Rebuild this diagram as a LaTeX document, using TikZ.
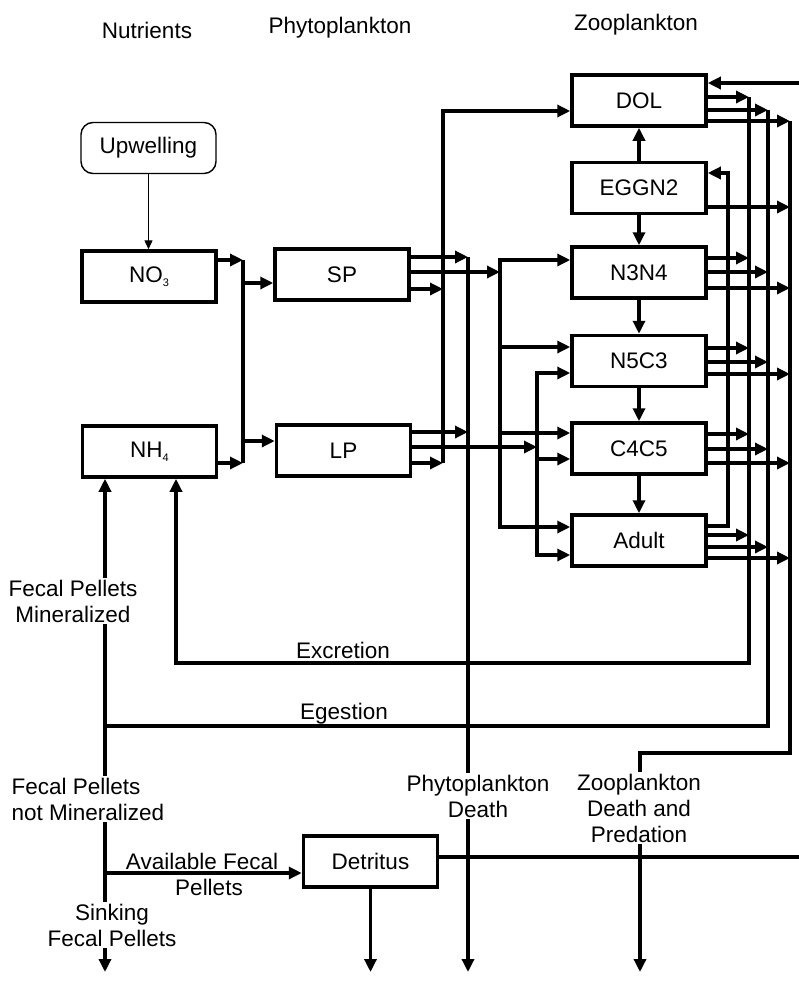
\documentclass[tikz,border=0pt]{standalone}
\usepackage{fontspec}
\setmainfont{Liberation Sans}
\usetikzlibrary{arrows.meta}
\newcommand{\subsc}[1]{{\fontsize{11bp}{11bp}\selectfont\raisebox{-4bp}{#1}}}
\begin{document}
\begin{tikzpicture}[x=1bp,y=-1bp,
  every node/.style={font=\fontsize{22.5bp}{26bp}\selectfont, inner sep=0pt},
  box/.style={draw, line width=3.5bp, minimum width=134bp, minimum height=51bp},
  rbox/.style={draw, line width=1.4bp, rounded corners=12bp, minimum width=135bp, minimum height=51bp},
  wire/.style={line width=3.5bp},
  arr/.style={line width=3.5bp, -{Triangle[length=13bp,width=12bp]}},
  tarr/.style={line width=1.4bp, -{Triangle[length=9bp,width=8bp]}},
  lbl/.style={fill=white, inner sep=1.5bp, align=center},
]
\useasboundingbox (0,0) rectangle (799,983);

% headers
\node (hN) at (147,30) {Nutrients};
\node (hP) at (340,28) {Phytoplankton};
\node (hZ) at (636,25) {Zooplankton};

% boxes
\node[rbox] (up) at (148.5,148) {Upwelling};
\node[box] (no3) at (149,276.5) {NO\subsc{3}};
\node[box] (nh4) at (149.5,451.5) {NH\subsc{4}};
\node[box] (sp) at (342,274.5) {SP};
\node[box] (lp) at (343.5,450.5) {LP};
\node[box] (dol) at (639,100.5) {DOL};
\node[box] (egg) at (639,188) {EGGN2};
\node[box] (n3) at (639,272.5) {N3N4};
\node[box] (n5) at (639,361) {N5C3};
\node[box] (c4) at (639,448.5) {C4C5};
\node[box] (ad) at (639,540.5) {Adult};
\node[box] (det) at (370.5,861.5) {Detritus};

% coordinates
\coordinate (nA) at (243,260);
\coordinate (nB) at (243,463);
\coordinate (nS) at (243,283);
\coordinate (nL) at (243,441);
\coordinate (pA) at (468,257);
\coordinate (pB) at (468,432);
\coordinate (pE) at (468,972);
\coordinate (zA) at (500,272);
\coordinate (zT) at (500,260);
\coordinate (z2) at (500,347);
\coordinate (z3) at (500,433);
\coordinate (zB) at (500,527);
\coordinate (mA) at (537,447);
\coordinate (mT) at (537,373);
\coordinate (m2) at (537,459);
\coordinate (mB) at (537,555);
\coordinate (dA) at (443,289);
\coordinate (dB) at (443,463);
\coordinate (dT) at (443,111);
\coordinate (exT) at (749,97);
\coordinate (exB) at (749,663);
\coordinate (exL) at (176,663);
\coordinate (egT) at (768,110);
\coordinate (egB) at (768,726);
\coordinate (egL) at (105,726);
\coordinate (zdT) at (790,121);
\coordinate (zdB) at (790,753);
\coordinate (zdL) at (640,753);
\coordinate (zdE) at (640,972);
\coordinate (rpB) at (728,526);
\coordinate (rpT) at (728,173);
\coordinate (fcB) at (105,972);
\coordinate (fcD) at (105,873);
\coordinate (dtR) at (801.5,857);
\coordinate (dtT) at (801.5,83);

% upwelling
\draw[tarr] (up.south) -- (up.south |- no3.north);

% nutrient bus
\draw[arr] (no3.east |- nA) -- (nA);
\draw[arr] (nh4.east |- nB) -- (nB);
\draw[wire] (nA) -- (nB);
\draw[arr] (nS) -- (nS -| sp.west);
\draw[arr] (nL) -- (nL -| lp.west);

% phytoplankton outputs
\draw[arr] (sp.east |- pA) -- (pA);
\draw[arr] (sp.east |- zA) -- (zA);
\draw[arr] (sp.east |- dA) -- (dA);
\draw[arr] (lp.east |- pB) -- (pB);
\draw[arr] (lp.east |- mA) -- (mA);
\draw[arr] (lp.east |- dB) -- (dB);

% DOL bus
\draw[arr] (dB) -- (dT) -- (dT -| dol.west);
% phytoplankton death
\draw[arr] (pA) -- (pE);
% grazing buses
\draw[arr] (zB) -- (zT) -- (zT -| n3.west);
\draw[arr] (zT) -- (zB) -- (zB -| ad.west);
\draw[arr] (z2) -- (z2 -| n5.west);
\draw[arr] (z3) -- (z3 -| c4.west);
\draw[arr] (mB) -- (mT) -- (mT -| n5.west);
\draw[arr] (mT) -- (mB) -- (mB -| ad.west);
\draw[arr] (m2) -- (m2 -| c4.west);

% stage chain
\draw[arr] (egg.north) -- (dol.south);
\draw[arr] (egg.south) -- (n3.north);
\draw[arr] (n3.south) -- (n5.north);
\draw[arr] (n5.south) -- (c4.north);
\draw[arr] (c4.south) -- (ad.north);

% outputs to right buses
\foreach \n/\y in {dol/97, n3/258, n5/348, c4/434, ad/535} {
  \coordinate (t) at (749,\y);
  \draw[arr] (\n.east |- t) -- (t);
}
\foreach \n/\y in {dol/110, n3/272, n5/362, c4/449, ad/547} {
  \coordinate (t) at (768,\y);
  \draw[arr] (\n.east |- t) -- (t);
}
\foreach \n/\y in {dol/121, egg/207, n3/288, n5/374, c4/463, ad/558} {
  \coordinate (t) at (790,\y);
  \draw[arr] (\n.east |- t) -- (t);
}
% reproduction
\draw[arr] (ad.east |- rpB) -- (rpB) -- (rpT) -- (rpT -| egg.east);

% excretion
\draw[arr] (exT) -- (exB) -- (exL) -- (exL |- nh4.south);
% egestion
\draw[wire] (egT) -- (egB) -- (egL);
\draw[arr] (egL) -- (egL |- nh4.south);
\draw[arr] (egL) -- (fcB);
\draw[arr] (fcD) -- (fcD -| det.west);
% zooplankton death
\draw[arr] (zdT) -- (zdB) -- (zdL) -- (zdE);
% detritus
\draw[arr] (det.south) -- (det.south |- fcB);
\draw[arr] (det.east |- dtR) -- (dtR) -- (dtT) -- (dtT -| dol.east);

% labels
\node[anchor=base] (lEx) at (343,658) {Excretion};
\node[anchor=base] (lEg) at (344,719) {Egestion};
\node[lbl] (lFM) at (73,601) {Fecal Pellets\\Mineralized};
\node[lbl, align=left, anchor=west] (lFN) at (10,799) {Fecal Pellets\\not Mineralized};
\node[lbl] (lSk) at (112,925) {Sinking\\Fecal Pellets};
\node (lAv) at (202,861) {Available Fecal};
\node (lAp) at (209,887) {Pellets};
\node[lbl] (lPD) at (478,796) {Phytoplankton\\Death};
\node[lbl] (lZD) at (639,808) {Zooplankton\\Death and\\Predation};
\end{tikzpicture}
\end{document}
